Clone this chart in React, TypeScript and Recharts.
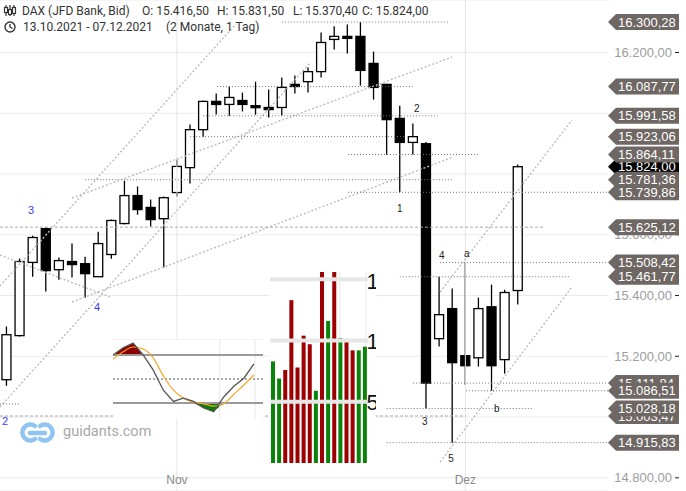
import React from 'react';
import {
  ComposedChart, BarChart, Bar, Line, Area, XAxis, YAxis, CartesianGrid, ReferenceLine, ReferenceDot,
} from 'recharts';

// trading days 13.10.2021 - 07.12.2021
const days = [
  '13.10.', '14.10.', '15.10.', '18.10.', '19.10.', '20.10.', '21.10.', '22.10.', '25.10.', '26.10.',
  '27.10.', '28.10.', '29.10.', '01.11.', '02.11.', '03.11.', '04.11.', '05.11.', '08.11.', '09.11.',
  '10.11.', '11.11.', '12.11.', '15.11.', '16.11.', '17.11.', '18.11.', '19.11.', '22.11.', '23.11.',
  '24.11.', '25.11.', '26.11.', '29.11.', '30.11.', '01.12.', '02.12.', '03.12.', '06.12.', '07.12.',
];
const opens = [
  15123, 15268, 15509, 15620, 15485, 15512, 15505, 15462, 15535, 15637,
  15729, 15690, 15653, 15739, 15821, 15946, 16039, 16029, 16042, 16025,
  16019, 16019, 16095, 16104, 16137, 16243, 16253, 16253, 16164, 16095,
  15983, 15904, 15900, 15258, 15357, 15202, 15195, 15363, 15189, 15416.5,
];
const highs = [
  15298, 15522, 15597, 15625.12, 15525, 15571, 15528, 15610, 15650, 15778,
  15759, 15716, 15726, 15848, 15963, 16042, 16065, 16087.77, 16068, 16104,
  16078, 16118, 16124, 16151, 16266, 16286, 16292, 16300.28, 16203, 16097,
  16025, 15966, 15905, 15461.77, 15423, 15508.42, 15393, 15436, 15419, 15831.5,
];
const lows = [
  15103, 15265, 15462, 15413, 15452, 15459, 15393, 15461.77, 15521, 15634,
  15666, 15627, 15492, 15726, 15769, 15923.06, 15996, 15991.58, 16006, 15995,
  15986, 15993, 16065, 16068, 16118, 16210, 16197, 16091, 16045, 15864.11,
  15739.86, 15864, 15028.18, 15232, 14915.83, 15106, 15166, 15086.51, 15143, 15370.4,
];
const closes = [
  15271, 15512, 15591, 15482, 15515, 15502, 15472, 15571, 15647, 15729,
  15683, 15650, 15722, 15825, 15946, 16039, 16029, 16052, 16029, 16019,
  16012, 16085, 16088, 16137, 16233, 16253, 16249, 16141, 16085, 15979,
  15904, 15923, 15111.84, 15337, 15179, 15169, 15357, 15169, 15410, 15824,
];

const yTicks = [14800, 15000, 15200, 15400, 15600, 15800, 16000, 16200];

// price markers on the right, in drawing order
const markerPrices = [
  15824.0, 15739.86, 15781.36, 15864.11, 15923.06, 15991.58, 16087.77, 16300.28, 15625.12,
  15461.77, 15508.42, 15111.84, 15086.51, 15003.47, 15028.18, 14915.83,
];

// horizontal support/resistance segments: [price, fromIndex, toIndex, dashed]
const levels: [number, number, number, boolean][] = [
  [16300.28, 21.0, 33.8, false],
  [16087.77, 16.06, 31.0, false],
  [15991.58, 15.0, 32.9, false],
  [15923.06, 14.0, 30.4, false],
  [15864.11, 26.05, 35.96, false],
  [15781.36, 6.0, 34.06, false],
  [15739.86, 26.05, 45.88, false],
  [15625.12, -0.496, 40.92, true],
  [15508.42, 33.07, 45.88, false],
  [15461.77, 30.0, 43.0, false],
  [15111.84, 31.0, 45.88, false],
  [15086.51, 35.05, 45.88, false],
  [15028.18, 29.0, 40.1, false],
  [15003.47, -0.496, 35.05, true],
  [14915.83, 29.0, 45.88, false],
  [15043.0, -0.496, 0.95, false],
];

// trend lines: [i1, p1, i2, p2]
const trends: [number, number, number, number][] = [
  [-0.496, 15431.4, 17.5, 16293.8],
  [5.0, 15721.1, 33.98, 16185.2],
  [5.0, 15378.7, 34.06, 15856.0],
  [-0.496, 15033.1, 23.15, 16165.4],
  [-0.496, 15533.4, 7.89, 15395.2],
  [33.07, 15411.7, 43.13, 15977.8],
  [33.07, 14852.1, 43.13, 15428.1],
];

// wave counts: [text, i, price, colour]
const waveLabels: [string, number, number, string][] = [
  ['3', 1.87, 15682, '#3b3bf0'],
  ['4', 6.9, 15362, '#3b3bf0'],
  ['2', -0.11, 14987, '#3b3bf0'],
  ['1', 30.0, 15688, '#222'],
  ['2', 31.3, 16017, '#222'],
  ['3', 31.9, 14984, '#222'],
  ['4', 33.2, 15533, '#222'],
  ['5', 33.9, 14865, '#222'],
  ['a', 35.1, 15537, '#222'],
  ['b', 37.4, 15027, '#222'],
];

// stochastic inset
const oscK = [80, 89, 95, 80, 61, 36, 22, 26, 22, 14, 9, 27.5, 41, 51, 69];
const oscD = [75, 84, 90, 87.5, 76, 54, 36, 26, 21, 19, 16, 19, 31, 42.5, 55];

// volume-like inset
const volValues = [8.3, 6.9, 7.6, 13.3, 7.8, 10.4, 9.7, 5.9, 17, 11.6, 17, 10.2, 10.0, 9.2, 9.2, 9.5];
const volUp = [true, true, false, false, false, false, false, true, false, true, false, true, false, false, true, true];

const candles = days.map((d, i) => ({ i, d, o: opens[i], h: highs[i], l: lows[i], c: closes[i] }));
const oscData = oscK.map((k, i) => ({ i, k, d: oscD[i] }));
const volData = volValues.map((v, i) => ({ i, v, up: volUp[i] }));

const X_DOMAIN: [number, number] = [-0.496, 45.88];
const Y_DOMAIN: [number, number] = [14756.6, 16372.8];

const fmt = (v: number) => {
  const [int, dec] = v.toFixed(2).split('.');
  return int.replace(/\B(?=(\d{3})+(?!\d))/g, '.') + ',' + dec;
};

const SANS = '"Liberation Sans", Arial, sans-serif';

const Candle = (props: any) => {
  let { x, y, width, height } = props;
  const { o, h, l, c } = props.payload;
  if (height < 0) { y += height; height = -height; }
  const span = h - l || 1;
  const yOf = (v: number) => y + ((h - v) / span) * height;
  const cx = x + width / 2;
  const top = yOf(Math.max(o, c));
  const bot = yOf(Math.min(o, c));
  return (
    <g>
      <line x1={cx} x2={cx} y1={y} y2={y + height} stroke="#000" strokeWidth={1.3} />
      <rect x={x} y={top} width={width} height={Math.max(bot - top, 2)}
        fill={c >= o ? '#fff' : '#000'} stroke="#000" strokeWidth={1.3} />
    </g>
  );
};

const PriceTick = (props: any) => {
  const { y, payload } = props;
  return (
    <g>
      <text x={672} y={y} dy={4.5} textAnchor="end" fill="#9d9d9d" fontSize={13} fontFamily={SANS}>
        {fmt(payload.value)}
      </text>
      <line x1={675} x2={679} y1={y} y2={y} stroke="#222" />
    </g>
  );
};

const markerLabel = (price: number) => (p: any) => {
  const vb = p.viewBox;
  const tip = vb.x + vb.width;
  const y = vb.y;
  const fill = price === 15824.0 ? '#000' : '#6e6763';
  return (
    <g>
      <polygon points={`${tip},${y} ${tip + 8},${y - 8} ${679},${y - 8} ${679},${y + 8} ${tip + 8},${y + 8}`} fill={fill} />
      <text x={618} y={y} dy={4.5} fill="#fff" fontSize={13} fontFamily={SANS}>{fmt(price)}</text>
    </g>
  );
};

const monthLabel = (text: string) => (p: any) => {
  const vb = p.viewBox;
  return (
    <text x={vb.x} y={484} textAnchor="middle" fill="#8a8a8a" fontSize={12} fontFamily={SANS}>{text}</text>
  );
};

const VolTick = (props: any) => {
  const { y, payload } = props;
  return (
    <text x={96.5} y={y} dy={8} fill="#111" fontSize={22} fontFamily={SANS}>{payload.value}</text>
  );
};

const abs = (left: number, top: number): React.CSSProperties => ({ position: 'absolute', left, top });

export default function App() {
  return (
    <div style={{ position: 'absolute', left: 0, top: 0, width: 686, height: 491, overflow: 'hidden', background: '#fff' }}>
      <div style={abs(0, 0)}>
        <ComposedChart width={686} height={491} data={candles} margin={{ top: 0, right: 0, bottom: 0, left: 0 }}>
          <XAxis type="number" dataKey="i" domain={X_DOMAIN} hide allowDataOverflow />
          <YAxis orientation="right" width={78} domain={Y_DOMAIN} ticks={yTicks} allowDataOverflow
            axisLine={false} tickLine={false} tick={<PriceTick />} interval={0} />
          <CartesianGrid vertical={false} stroke="#ebebeb" />
          <ReferenceLine x={13} stroke="#e6e6e6" label={monthLabel('Nov')} />
          <ReferenceLine x={35} stroke="#e6e6e6" label={monthLabel('Dez')} />
          {trends.map((t, k) => (
            <ReferenceLine key={'t' + k} segment={[{ x: t[0], y: t[1] }, { x: t[2], y: t[3] }]}
              stroke="#bdbdbd" strokeWidth={1.4} strokeDasharray="2 2" ifOverflow="visible" />
          ))}
          {levels.map((lv, k) => (
            <ReferenceLine key={'l' + k} segment={[{ x: lv[1], y: lv[0] }, { x: lv[2], y: lv[0] }]}
              stroke={lv[3] ? '#a8a8a8' : '#777'} strokeWidth={1}
              strokeDasharray={lv[3] ? '3 2' : '1 2'} ifOverflow="visible" />
          ))}
          <Bar dataKey={(d: any) => [d.l, d.h]} barSize={9} shape={<Candle />} isAnimationActive={false} />
          {waveLabels.map((w, k) => (
            <ReferenceDot key={'w' + k} x={w[1]} y={w[2]} r={0} fill="none" stroke="none" ifOverflow="visible"
              label={{ value: w[0], position: 'center', fill: w[3], fontSize: w[3] === '#222' ? 10 : 11, fontFamily: SANS }} />
          ))}
        </ComposedChart>
      </div>

      {/* price markers drawn above the axis labels */}
      <div style={abs(0, 0)}>
        <ComposedChart width={686} height={491} data={candles} margin={{ top: 0, right: 78, bottom: 0, left: 0 }}>
          <XAxis type="number" dataKey="i" domain={X_DOMAIN} hide allowDataOverflow />
          <YAxis domain={Y_DOMAIN} hide allowDataOverflow />
          {markerPrices.map((p, k) => (
            <ReferenceLine key={'m' + k} y={p} stroke="none" label={markerLabel(p)} />
          ))}
        </ComposedChart>
      </div>

      {/* header */}
      <svg style={abs(3, 4)} width={14} height={30}>
        <g stroke="#333" strokeWidth={1.2} fill="#fff">
          <line x1={3} x2={3} y1={1} y2={12} />
          <rect x={1.5} y={3.5} width={3} height={5} />
          <line x1={7} x2={7} y1={1} y2={12} />
          <rect x={5.5} y={5.5} width={3} height={5} />
          <line x1={11} x2={11} y1={1} y2={12} />
          <rect x={9.5} y={3.5} width={3} height={6} />
        </g>
        <circle cx={7} cy={23} r={5} stroke="#333" strokeWidth={1.4} fill="none" />
        <polyline points="7,20 7,23 9.5,24.5" stroke="#333" strokeWidth={1.3} fill="none" />
      </svg>
      <div style={{ ...abs(0, 3), fontFamily: 'Roboto, sans-serif', fontSize: 12, color: '#333', whiteSpace: 'nowrap', lineHeight: '16px' }}>
        <span style={abs(22, 0)}>DAX (JFD Bank, Bid)</span>
        <span style={abs(142, 0)}>O: 15.416,50</span>
        <span style={abs(217, 0)}>H: 15.831,50</span>
        <span style={abs(293, 0)}>L: 15.370,40</span>
        <span style={abs(362, 0)}>C: 15.824,00</span>
        <span style={abs(23, 16)}>13.10.2021 - 07.12.2021</span>
        <span style={abs(166, 16)}>(2 Monate, 1 Tag)</span>
      </div>

      {/* watermark */}
      <svg style={abs(18, 420)} width={42} height={26}>
        <g stroke="#8fc4f3" strokeWidth={4.5} fill="none" strokeLinecap="round">
          <path d="M 17 6 A 8 8 0 1 0 17 19" />
          <path d="M 22 6 A 8 8 0 1 1 22 19" />
          <line x1={12} x2={27} y1={13} y2={13} />
        </g>
      </svg>
      <div style={{ ...abs(63, 423), fontFamily: 'Roboto, sans-serif', fontSize: 14.5, color: '#a8a8a8' }}>
        guidants.com
      </div>

      {/* oscillator inset */}
      <div style={{ ...abs(113, 339), width: 150, height: 80, background: '#fff' }}>
        <ComposedChart width={150} height={80} data={oscData} margin={{ top: 0, right: 0, bottom: 0, left: 0 }}>
          <XAxis type="number" dataKey="i" domain={[0, 14.9]} hide />
          <YAxis domain={[0, 100]} hide />
          <ReferenceLine x={10.6} stroke="#e6e6e6" />
          <ReferenceLine x={14.1} stroke="#e6e6e6" />
          <ReferenceLine y={100} stroke="#e6e6e6" />
          <ReferenceLine y={80} stroke="#9a9a9a" strokeWidth={2} />
          <ReferenceLine y={50} stroke="#555" strokeDasharray="2 2" />
          <ReferenceLine y={20} stroke="#9a9a9a" strokeWidth={2} />
          <Area type="linear" dataKey={(d: any) => [80, Math.max(80, d.k)]} fill="#8b0000" fillOpacity={1} stroke="none" isAnimationActive={false} />
          <Area type="linear" dataKey={(d: any) => [Math.min(20, d.k), 20]} fill="#0b7a0b" fillOpacity={1} stroke="none" isAnimationActive={false} />
          <Line type="monotone" dataKey="d" stroke="#f5a623" strokeWidth={1.2} dot={false} isAnimationActive={false} />
          <Line type="linear" dataKey="k" stroke="#555" strokeWidth={1.3} dot={false} isAnimationActive={false} />
        </ComposedChart>
      </div>

      {/* volume inset */}
      <div style={{ ...abs(270, 272), width: 106, height: 191, overflow: 'hidden', background: '#fff' }}>
        <BarChart width={170} height={191} data={volData} margin={{ top: 0, right: 0, bottom: 0, left: 0 }}>
          <CartesianGrid horizontal={false} verticalPoints={[70, 96]} stroke="#e8e8e8" />
          <XAxis dataKey="i" hide />
          <YAxis orientation="right" width={72} domain={[0, 15.6]} ticks={[0, 5, 10, 15]} allowDataOverflow
            axisLine={false} tickLine={false} tick={<VolTick />} />
          {[5, 10, 15].map((v) => (
            <ReferenceLine key={v} y={v} stroke="#e6e6e6" strokeWidth={4} />
          ))}
          <Bar dataKey="v" barSize={4} isAnimationActive={false}
            shape={(p: any) => (
              <rect x={p.x} y={p.y} width={p.width} height={p.height} fill={p.payload.up ? '#0b830b' : '#9c0000'} />
            )} />
        </BarChart>
      </div>
    </div>
  );
}
